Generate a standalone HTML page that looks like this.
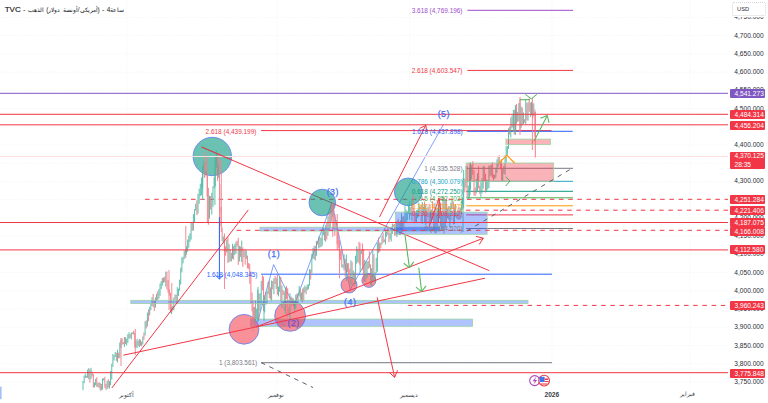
<!DOCTYPE html>
<html><head><meta charset="utf-8"><style>
html,body{margin:0;padding:0;background:#fff;width:768px;height:403px;overflow:hidden}
body{position:relative;font-family:"Liberation Sans",sans-serif}
svg text{font-family:"Liberation Sans",sans-serif}
.pl{position:absolute;left:734.3px;font-size:6.6px;line-height:9px;color:#2a2e39;white-space:nowrap}
.tag{position:absolute;left:730px;width:35px;height:9px;line-height:9px;font-size:6.6px;color:#fff;border-radius:1px;padding-left:4.5px;box-sizing:border-box;white-space:nowrap}
.usd{position:absolute;left:731.5px;top:2px;width:34px;height:14px;border:0.8px dotted #d4d6dc;border-radius:2px;box-sizing:border-box;font-size:5.7px;line-height:12.5px;color:#2a2e39;padding-left:4.6px;background:#fff}
.title{position:absolute;left:4.7px;top:5.4px;font-size:7px;color:#131722;white-space:nowrap;direction:ltr}
.title span{display:inline-block;margin-right:0.45px}
.title .ar{font-size:6.45px}
.title .tv{font-size:8px;-webkit-text-stroke:0.15px #131722}
.tl{position:absolute;top:391px;font-size:6.6px;color:#3a3e49;transform:translateX(-50%);white-space:nowrap}
</style></head><body>
<svg width="768" height="403" style="position:absolute;left:0;top:0"><line x1="0" y1="382.0" x2="728" y2="382.0" stroke="#eef0f3" stroke-width="0.7" stroke-dasharray="1 1.2"/>
<line x1="0" y1="363.7" x2="728" y2="363.7" stroke="#eef0f3" stroke-width="0.7" stroke-dasharray="1 1.2"/>
<line x1="0" y1="345.5" x2="728" y2="345.5" stroke="#eef0f3" stroke-width="0.7" stroke-dasharray="1 1.2"/>
<line x1="0" y1="327.3" x2="728" y2="327.3" stroke="#eef0f3" stroke-width="0.7" stroke-dasharray="1 1.2"/>
<line x1="0" y1="309.0" x2="728" y2="309.0" stroke="#eef0f3" stroke-width="0.7" stroke-dasharray="1 1.2"/>
<line x1="0" y1="290.8" x2="728" y2="290.8" stroke="#eef0f3" stroke-width="0.7" stroke-dasharray="1 1.2"/>
<line x1="0" y1="272.6" x2="728" y2="272.6" stroke="#eef0f3" stroke-width="0.7" stroke-dasharray="1 1.2"/>
<line x1="0" y1="254.4" x2="728" y2="254.4" stroke="#eef0f3" stroke-width="0.7" stroke-dasharray="1 1.2"/>
<line x1="0" y1="236.1" x2="728" y2="236.1" stroke="#eef0f3" stroke-width="0.7" stroke-dasharray="1 1.2"/>
<line x1="0" y1="217.9" x2="728" y2="217.9" stroke="#eef0f3" stroke-width="0.7" stroke-dasharray="1 1.2"/>
<line x1="0" y1="199.7" x2="728" y2="199.7" stroke="#eef0f3" stroke-width="0.7" stroke-dasharray="1 1.2"/>
<line x1="0" y1="181.5" x2="728" y2="181.5" stroke="#eef0f3" stroke-width="0.7" stroke-dasharray="1 1.2"/>
<line x1="0" y1="163.2" x2="728" y2="163.2" stroke="#eef0f3" stroke-width="0.7" stroke-dasharray="1 1.2"/>
<line x1="0" y1="145.0" x2="728" y2="145.0" stroke="#eef0f3" stroke-width="0.7" stroke-dasharray="1 1.2"/>
<line x1="0" y1="126.8" x2="728" y2="126.8" stroke="#eef0f3" stroke-width="0.7" stroke-dasharray="1 1.2"/>
<line x1="0" y1="108.5" x2="728" y2="108.5" stroke="#eef0f3" stroke-width="0.7" stroke-dasharray="1 1.2"/>
<line x1="0" y1="90.3" x2="728" y2="90.3" stroke="#eef0f3" stroke-width="0.7" stroke-dasharray="1 1.2"/>
<line x1="0" y1="72.1" x2="728" y2="72.1" stroke="#eef0f3" stroke-width="0.7" stroke-dasharray="1 1.2"/>
<line x1="0" y1="53.9" x2="728" y2="53.9" stroke="#eef0f3" stroke-width="0.7" stroke-dasharray="1 1.2"/>
<line x1="0" y1="35.6" x2="728" y2="35.6" stroke="#eef0f3" stroke-width="0.7" stroke-dasharray="1 1.2"/>
<line x1="0" y1="17.4" x2="728" y2="17.4" stroke="#eef0f3" stroke-width="0.7" stroke-dasharray="1 1.2"/>
<line x1="126.7" y1="0" x2="126.7" y2="388" stroke="#eef0f3" stroke-width="0.7" stroke-dasharray="1 1.2"/>
<line x1="276.8" y1="0" x2="276.8" y2="388" stroke="#eef0f3" stroke-width="0.7" stroke-dasharray="1 1.2"/>
<line x1="409.5" y1="0" x2="409.5" y2="388" stroke="#eef0f3" stroke-width="0.7" stroke-dasharray="1 1.2"/>
<line x1="551.9" y1="0" x2="551.9" y2="388" stroke="#eef0f3" stroke-width="0.7" stroke-dasharray="1 1.2"/>
<line x1="689.8" y1="0" x2="689.8" y2="388" stroke="#eef0f3" stroke-width="0.7" stroke-dasharray="1 1.2"/>
<line x1="467.3" y1="10.3" x2="573" y2="10.3" stroke="#9c4dcc" stroke-width="1"/>
<line x1="467.3" y1="70.4" x2="573" y2="70.4" stroke="#f23645" stroke-width="1"/>
<line x1="261" y1="130.6" x2="551.5" y2="130.6" stroke="#f23645" stroke-width="1"/>
<line x1="467.2" y1="131.3" x2="572.7" y2="131.3" stroke="#2962ff" stroke-width="1"/>
<line x1="261" y1="274.2" x2="552" y2="274.2" stroke="#2962ff" stroke-width="1"/>
<line x1="261.2" y1="362.7" x2="552" y2="362.7" stroke="#787b86" stroke-width="1"/>
<line x1="466.2" y1="168.3" x2="573" y2="168.3" stroke="#787b86" stroke-width="1"/>
<line x1="466.2" y1="181.3" x2="573" y2="181.3" stroke="#22a5c8" stroke-width="1"/>
<line x1="466.2" y1="191.3" x2="573" y2="191.3" stroke="#089981" stroke-width="1"/>
<line x1="466.2" y1="197.8" x2="573" y2="197.8" stroke="#4caf50" stroke-width="1"/>
<line x1="466.2" y1="205.8" x2="573" y2="205.8" stroke="#ff9800" stroke-width="1"/>
<line x1="466.2" y1="214.9" x2="573" y2="214.9" stroke="#f23645" stroke-width="1"/>
<line x1="466.2" y1="228.5" x2="573" y2="228.5" stroke="#787b86" stroke-width="1"/>
<line x1="145" y1="199.3" x2="728" y2="199.3" stroke="#f23645" stroke-width="1" stroke-dasharray="4.5 4.7"/>
<rect x="250.7" y="319.1" width="221.9" height="7.2" fill="rgba(41,98,255,0.38)" stroke="#9ad3a0" stroke-width="0.8"/>
<line x1="201.6" y1="147" x2="489.3" y2="270.7" stroke="#f23645" stroke-width="1"/>
<polyline points="257.8,321 273.6,264.6 294,306 332,202.5 350.3,289.5 443.3,124.8" fill="none" stroke="#4a78f5" stroke-width="0.7"/>
<circle cx="212.3" cy="156.5" r="19.2" fill="rgba(8,153,129,0.6)" stroke="#5b7ef0" stroke-width="0.8"/>
<circle cx="322.3" cy="202.5" r="13.3" fill="rgba(8,153,129,0.6)" stroke="#5b7ef0" stroke-width="0.8"/>
<circle cx="408.3" cy="191.9" r="13.9" fill="rgba(8,153,129,0.6)" stroke="#5b7ef0" stroke-width="0.8"/>
<circle cx="244" cy="329.3" r="14.9" fill="rgba(242,54,69,0.55)" stroke="#5b7ef0" stroke-width="0.8"/>
<circle cx="290.1" cy="315.9" r="15.4" fill="rgba(242,54,69,0.55)" stroke="#5b7ef0" stroke-width="0.8"/>
<circle cx="349" cy="285" r="8" fill="rgba(242,54,69,0.55)" stroke="#5b7ef0" stroke-width="0.8"/>
<circle cx="368.9" cy="280.4" r="7" fill="rgba(242,54,69,0.55)" stroke="#5b7ef0" stroke-width="0.8"/>
<g><line x1="83.00" y1="381.0" x2="83.00" y2="390.2" stroke="#40b29d" stroke-width="0.85"/><line x1="84.15" y1="375.7" x2="84.15" y2="383.1" stroke="#40b29d" stroke-width="0.85"/><line x1="85.30" y1="373.7" x2="85.30" y2="378.1" stroke="#40b29d" stroke-width="0.85"/><line x1="86.45" y1="375.7" x2="86.45" y2="377.6" stroke="#f16b78" stroke-width="0.85"/><line x1="87.60" y1="369.7" x2="87.60" y2="377.8" stroke="#40b29d" stroke-width="0.85"/><line x1="88.75" y1="368.1" x2="88.75" y2="379.2" stroke="#40b29d" stroke-width="0.85"/><line x1="89.90" y1="369.3" x2="89.90" y2="382.6" stroke="#f16b78" stroke-width="0.85"/><line x1="91.05" y1="367.8" x2="91.05" y2="378.9" stroke="#40b29d" stroke-width="0.85"/><line x1="92.20" y1="371.5" x2="92.20" y2="376.5" stroke="#f16b78" stroke-width="0.85"/><line x1="93.35" y1="374.0" x2="93.35" y2="387.6" stroke="#f16b78" stroke-width="0.85"/><line x1="94.50" y1="382.5" x2="94.50" y2="387.3" stroke="#40b29d" stroke-width="0.85"/><line x1="95.65" y1="378.9" x2="95.65" y2="385.2" stroke="#40b29d" stroke-width="0.85"/><line x1="96.80" y1="377.3" x2="96.80" y2="387.0" stroke="#f16b78" stroke-width="0.85"/><line x1="97.95" y1="383.0" x2="97.95" y2="386.9" stroke="#40b29d" stroke-width="0.85"/><line x1="99.10" y1="382.1" x2="99.10" y2="388.1" stroke="#f16b78" stroke-width="0.85"/><line x1="100.25" y1="383.1" x2="100.25" y2="390.5" stroke="#40b29d" stroke-width="0.85"/><line x1="101.40" y1="384.0" x2="101.40" y2="390.4" stroke="#f16b78" stroke-width="0.85"/><line x1="102.55" y1="378.5" x2="102.55" y2="389.6" stroke="#40b29d" stroke-width="0.85"/><line x1="103.70" y1="378.1" x2="103.70" y2="380.4" stroke="#40b29d" stroke-width="0.85"/><line x1="104.85" y1="376.8" x2="104.85" y2="387.9" stroke="#f16b78" stroke-width="0.85"/><line x1="106.00" y1="383.9" x2="106.00" y2="390.1" stroke="#f16b78" stroke-width="0.85"/><line x1="107.15" y1="380.8" x2="107.15" y2="389.0" stroke="#40b29d" stroke-width="0.85"/><line x1="108.30" y1="379.2" x2="108.30" y2="387.6" stroke="#f16b78" stroke-width="0.85"/><line x1="109.45" y1="381.1" x2="109.45" y2="388.6" stroke="#40b29d" stroke-width="0.85"/><line x1="110.60" y1="371.0" x2="110.60" y2="385.2" stroke="#40b29d" stroke-width="0.85"/><line x1="111.75" y1="363.7" x2="111.75" y2="379.5" stroke="#40b29d" stroke-width="0.85"/><line x1="112.90" y1="354.0" x2="112.90" y2="366.9" stroke="#40b29d" stroke-width="0.85"/><line x1="114.05" y1="354.9" x2="114.05" y2="360.4" stroke="#40b29d" stroke-width="0.85"/><line x1="115.20" y1="352.0" x2="115.20" y2="357.0" stroke="#40b29d" stroke-width="0.85"/><line x1="116.35" y1="352.8" x2="116.35" y2="361.0" stroke="#f16b78" stroke-width="0.85"/><line x1="117.50" y1="349.8" x2="117.50" y2="362.5" stroke="#40b29d" stroke-width="0.85"/><line x1="118.65" y1="352.7" x2="118.65" y2="358.3" stroke="#f16b78" stroke-width="0.85"/><line x1="119.80" y1="342.5" x2="119.80" y2="358.2" stroke="#40b29d" stroke-width="0.85"/><line x1="120.95" y1="339.6" x2="120.95" y2="348.2" stroke="#40b29d" stroke-width="0.85"/><line x1="122.10" y1="338.2" x2="122.10" y2="344.9" stroke="#f16b78" stroke-width="0.85"/><line x1="123.25" y1="342.1" x2="123.25" y2="344.1" stroke="#f16b78" stroke-width="0.85"/><line x1="124.40" y1="337.0" x2="124.40" y2="346.9" stroke="#40b29d" stroke-width="0.85"/><line x1="125.55" y1="337.2" x2="125.55" y2="344.0" stroke="#f16b78" stroke-width="0.85"/><line x1="126.70" y1="338.7" x2="126.70" y2="345.4" stroke="#40b29d" stroke-width="0.85"/><line x1="127.85" y1="334.2" x2="127.85" y2="342.8" stroke="#40b29d" stroke-width="0.85"/><line x1="129.00" y1="332.3" x2="129.00" y2="338.9" stroke="#40b29d" stroke-width="0.85"/><line x1="130.15" y1="334.0" x2="130.15" y2="338.0" stroke="#f16b78" stroke-width="0.85"/><line x1="131.30" y1="332.5" x2="131.30" y2="339.4" stroke="#40b29d" stroke-width="0.85"/><line x1="132.45" y1="332.6" x2="132.45" y2="334.1" stroke="#40b29d" stroke-width="0.85"/><line x1="133.60" y1="330.8" x2="133.60" y2="334.5" stroke="#f16b78" stroke-width="0.85"/><line x1="134.75" y1="332.6" x2="134.75" y2="347.3" stroke="#f16b78" stroke-width="0.85"/><line x1="135.90" y1="341.4" x2="135.90" y2="348.4" stroke="#40b29d" stroke-width="0.85"/><line x1="137.05" y1="338.8" x2="137.05" y2="347.6" stroke="#40b29d" stroke-width="0.85"/><line x1="138.20" y1="340.7" x2="138.20" y2="346.2" stroke="#f16b78" stroke-width="0.85"/><line x1="139.35" y1="339.0" x2="139.35" y2="347.0" stroke="#40b29d" stroke-width="0.85"/><line x1="140.50" y1="339.8" x2="140.50" y2="345.7" stroke="#f16b78" stroke-width="0.85"/><line x1="141.65" y1="341.5" x2="141.65" y2="346.3" stroke="#40b29d" stroke-width="0.85"/><line x1="142.80" y1="336.4" x2="142.80" y2="344.5" stroke="#40b29d" stroke-width="0.85"/><line x1="143.95" y1="332.4" x2="143.95" y2="339.9" stroke="#f16b78" stroke-width="0.85"/><line x1="145.10" y1="321.3" x2="145.10" y2="335.5" stroke="#40b29d" stroke-width="0.85"/><line x1="146.25" y1="320.4" x2="146.25" y2="328.6" stroke="#f16b78" stroke-width="0.85"/><line x1="147.40" y1="312.6" x2="147.40" y2="326.4" stroke="#40b29d" stroke-width="0.85"/><line x1="148.55" y1="309.3" x2="148.55" y2="321.2" stroke="#f16b78" stroke-width="0.85"/><line x1="149.70" y1="306.7" x2="149.70" y2="315.5" stroke="#40b29d" stroke-width="0.85"/><line x1="150.85" y1="303.2" x2="150.85" y2="310.3" stroke="#40b29d" stroke-width="0.85"/><line x1="152.00" y1="297.3" x2="152.00" y2="306.0" stroke="#40b29d" stroke-width="0.85"/><line x1="153.15" y1="293.9" x2="153.15" y2="307.3" stroke="#f16b78" stroke-width="0.85"/><line x1="154.30" y1="300.2" x2="154.30" y2="311.1" stroke="#f16b78" stroke-width="0.85"/><line x1="155.45" y1="297.3" x2="155.45" y2="307.6" stroke="#40b29d" stroke-width="0.85"/><line x1="156.60" y1="293.7" x2="156.60" y2="300.7" stroke="#40b29d" stroke-width="0.85"/><line x1="157.75" y1="291.3" x2="157.75" y2="300.5" stroke="#f16b78" stroke-width="0.85"/><line x1="158.90" y1="288.9" x2="158.90" y2="298.7" stroke="#40b29d" stroke-width="0.85"/><line x1="160.05" y1="283.5" x2="160.05" y2="295.7" stroke="#40b29d" stroke-width="0.85"/><line x1="161.20" y1="281.0" x2="161.20" y2="289.1" stroke="#40b29d" stroke-width="0.85"/><line x1="162.35" y1="277.9" x2="162.35" y2="285.6" stroke="#40b29d" stroke-width="0.85"/><line x1="163.50" y1="277.6" x2="163.50" y2="282.7" stroke="#f16b78" stroke-width="0.85"/><line x1="164.65" y1="276.7" x2="164.65" y2="282.2" stroke="#f16b78" stroke-width="0.85"/><line x1="165.80" y1="271.6" x2="165.80" y2="286.6" stroke="#40b29d" stroke-width="0.85"/><line x1="166.95" y1="271.6" x2="166.95" y2="289.6" stroke="#f16b78" stroke-width="0.85"/><line x1="168.10" y1="279.8" x2="168.10" y2="292.7" stroke="#f16b78" stroke-width="0.85"/><line x1="169.25" y1="289.4" x2="169.25" y2="295.7" stroke="#f16b78" stroke-width="0.85"/><line x1="170.40" y1="292.6" x2="170.40" y2="312.8" stroke="#f16b78" stroke-width="0.85"/><line x1="171.55" y1="307.2" x2="171.55" y2="314.0" stroke="#40b29d" stroke-width="0.85"/><line x1="172.70" y1="306.1" x2="172.70" y2="310.8" stroke="#40b29d" stroke-width="0.85"/><line x1="173.85" y1="297.7" x2="173.85" y2="310.2" stroke="#40b29d" stroke-width="0.85"/><line x1="175.00" y1="294.5" x2="175.00" y2="299.6" stroke="#40b29d" stroke-width="0.85"/><line x1="176.15" y1="294.6" x2="176.15" y2="303.7" stroke="#f16b78" stroke-width="0.85"/><line x1="177.30" y1="287.2" x2="177.30" y2="302.5" stroke="#40b29d" stroke-width="0.85"/><line x1="178.45" y1="288.6" x2="178.45" y2="295.9" stroke="#40b29d" stroke-width="0.85"/><line x1="179.60" y1="279.6" x2="179.60" y2="290.7" stroke="#40b29d" stroke-width="0.85"/><line x1="180.75" y1="267.6" x2="180.75" y2="284.4" stroke="#40b29d" stroke-width="0.85"/><line x1="181.90" y1="257.3" x2="181.90" y2="272.3" stroke="#40b29d" stroke-width="0.85"/><line x1="183.05" y1="256.7" x2="183.05" y2="263.4" stroke="#40b29d" stroke-width="0.85"/><line x1="184.20" y1="250.7" x2="184.20" y2="259.2" stroke="#40b29d" stroke-width="0.85"/><line x1="185.35" y1="249.9" x2="185.35" y2="256.6" stroke="#40b29d" stroke-width="0.85"/><line x1="186.50" y1="246.3" x2="186.50" y2="254.4" stroke="#40b29d" stroke-width="0.85"/><line x1="187.65" y1="239.5" x2="187.65" y2="251.8" stroke="#40b29d" stroke-width="0.85"/><line x1="188.80" y1="235.8" x2="188.80" y2="247.7" stroke="#40b29d" stroke-width="0.85"/><line x1="189.95" y1="233.2" x2="189.95" y2="241.9" stroke="#40b29d" stroke-width="0.85"/><line x1="191.10" y1="222.4" x2="191.10" y2="239.6" stroke="#40b29d" stroke-width="0.85"/><line x1="192.25" y1="222.2" x2="192.25" y2="230.7" stroke="#f16b78" stroke-width="0.85"/><line x1="193.40" y1="214.1" x2="193.40" y2="230.7" stroke="#40b29d" stroke-width="0.85"/><line x1="194.55" y1="209.2" x2="194.55" y2="222.8" stroke="#40b29d" stroke-width="0.85"/><line x1="195.70" y1="203.7" x2="195.70" y2="210.5" stroke="#40b29d" stroke-width="0.85"/><line x1="196.85" y1="200.4" x2="196.85" y2="215.3" stroke="#f16b78" stroke-width="0.85"/><line x1="198.00" y1="193.9" x2="198.00" y2="213.7" stroke="#40b29d" stroke-width="0.85"/><line x1="199.15" y1="188.7" x2="199.15" y2="203.8" stroke="#40b29d" stroke-width="0.85"/><line x1="200.30" y1="183.7" x2="200.30" y2="196.2" stroke="#40b29d" stroke-width="0.85"/><line x1="201.45" y1="177.5" x2="201.45" y2="195.2" stroke="#40b29d" stroke-width="0.85"/><line x1="202.60" y1="166.1" x2="202.60" y2="188.4" stroke="#40b29d" stroke-width="0.85"/><line x1="203.75" y1="161.3" x2="203.75" y2="172.1" stroke="#40b29d" stroke-width="0.85"/><line x1="204.90" y1="162.8" x2="204.90" y2="177.2" stroke="#f16b78" stroke-width="0.85"/><line x1="206.05" y1="171.3" x2="206.05" y2="175.4" stroke="#40b29d" stroke-width="0.85"/><line x1="207.20" y1="174.2" x2="207.20" y2="196.4" stroke="#f16b78" stroke-width="0.85"/><line x1="208.35" y1="187.9" x2="208.35" y2="224.8" stroke="#f16b78" stroke-width="0.85"/><line x1="209.50" y1="195.8" x2="209.50" y2="218.5" stroke="#40b29d" stroke-width="0.85"/><line x1="210.65" y1="196.0" x2="210.65" y2="209.7" stroke="#f16b78" stroke-width="0.85"/><line x1="211.80" y1="192.8" x2="211.80" y2="214.5" stroke="#40b29d" stroke-width="0.85"/><line x1="212.95" y1="186.3" x2="212.95" y2="206.9" stroke="#40b29d" stroke-width="0.85"/><line x1="214.10" y1="177.3" x2="214.10" y2="188.4" stroke="#40b29d" stroke-width="0.85"/><line x1="215.25" y1="156.9" x2="215.25" y2="186.5" stroke="#40b29d" stroke-width="0.85"/><line x1="216.40" y1="150.4" x2="216.40" y2="168.0" stroke="#40b29d" stroke-width="0.85"/><line x1="217.55" y1="156.2" x2="217.55" y2="180.9" stroke="#f16b78" stroke-width="0.85"/><line x1="218.70" y1="164.3" x2="218.70" y2="178.0" stroke="#40b29d" stroke-width="0.85"/><line x1="219.85" y1="184.4" x2="219.85" y2="211.5" stroke="#f16b78" stroke-width="0.85"/><line x1="221.00" y1="207.0" x2="221.00" y2="226.6" stroke="#f16b78" stroke-width="0.85"/><line x1="222.15" y1="227.5" x2="222.15" y2="241.3" stroke="#f16b78" stroke-width="0.85"/><line x1="223.30" y1="236.6" x2="223.30" y2="243.2" stroke="#40b29d" stroke-width="0.85"/><line x1="224.45" y1="233.5" x2="224.45" y2="251.3" stroke="#f16b78" stroke-width="0.85"/><line x1="225.60" y1="246.3" x2="225.60" y2="255.8" stroke="#f16b78" stroke-width="0.85"/><line x1="226.75" y1="239.7" x2="226.75" y2="252.5" stroke="#40b29d" stroke-width="0.85"/><line x1="227.90" y1="236.9" x2="227.90" y2="263.0" stroke="#f16b78" stroke-width="0.85"/><line x1="229.05" y1="244.2" x2="229.05" y2="262.0" stroke="#40b29d" stroke-width="0.85"/><line x1="230.20" y1="249.4" x2="230.20" y2="261.3" stroke="#f16b78" stroke-width="0.85"/><line x1="231.35" y1="252.8" x2="231.35" y2="261.4" stroke="#40b29d" stroke-width="0.85"/><line x1="232.50" y1="243.8" x2="232.50" y2="258.8" stroke="#40b29d" stroke-width="0.85"/><line x1="233.65" y1="245.9" x2="233.65" y2="259.7" stroke="#f16b78" stroke-width="0.85"/><line x1="234.80" y1="244.1" x2="234.80" y2="254.9" stroke="#40b29d" stroke-width="0.85"/><line x1="235.95" y1="241.6" x2="235.95" y2="253.7" stroke="#40b29d" stroke-width="0.85"/><line x1="237.10" y1="240.7" x2="237.10" y2="246.5" stroke="#f16b78" stroke-width="0.85"/><line x1="238.25" y1="237.9" x2="238.25" y2="264.9" stroke="#f16b78" stroke-width="0.85"/><line x1="239.40" y1="245.8" x2="239.40" y2="261.5" stroke="#40b29d" stroke-width="0.85"/><line x1="240.55" y1="246.5" x2="240.55" y2="256.9" stroke="#f16b78" stroke-width="0.85"/><line x1="241.70" y1="240.6" x2="241.70" y2="262.0" stroke="#40b29d" stroke-width="0.85"/><line x1="242.85" y1="247.3" x2="242.85" y2="266.9" stroke="#f16b78" stroke-width="0.85"/><line x1="244.00" y1="250.7" x2="244.00" y2="257.4" stroke="#40b29d" stroke-width="0.85"/><line x1="245.15" y1="249.0" x2="245.15" y2="264.7" stroke="#f16b78" stroke-width="0.85"/><line x1="246.30" y1="250.6" x2="246.30" y2="259.1" stroke="#40b29d" stroke-width="0.85"/><line x1="247.45" y1="255.6" x2="247.45" y2="268.4" stroke="#f16b78" stroke-width="0.85"/><line x1="248.60" y1="263.0" x2="248.60" y2="268.8" stroke="#f16b78" stroke-width="0.85"/><line x1="249.75" y1="263.9" x2="249.75" y2="283.7" stroke="#f16b78" stroke-width="0.85"/><line x1="250.90" y1="271.4" x2="250.90" y2="303.9" stroke="#f16b78" stroke-width="0.85"/><line x1="252.05" y1="292.5" x2="252.05" y2="311.4" stroke="#f16b78" stroke-width="0.85"/><line x1="253.20" y1="306.9" x2="253.20" y2="323.8" stroke="#f16b78" stroke-width="0.85"/><line x1="254.35" y1="307.0" x2="254.35" y2="322.6" stroke="#40b29d" stroke-width="0.85"/><line x1="255.50" y1="300.1" x2="255.50" y2="321.1" stroke="#f16b78" stroke-width="0.85"/><line x1="256.65" y1="308.6" x2="256.65" y2="319.1" stroke="#40b29d" stroke-width="0.85"/><line x1="257.80" y1="289.6" x2="257.80" y2="321.1" stroke="#40b29d" stroke-width="0.85"/><line x1="258.95" y1="293.4" x2="258.95" y2="319.5" stroke="#f16b78" stroke-width="0.85"/><line x1="260.10" y1="293.2" x2="260.10" y2="310.9" stroke="#40b29d" stroke-width="0.85"/><line x1="261.25" y1="281.0" x2="261.25" y2="305.1" stroke="#40b29d" stroke-width="0.85"/><line x1="262.40" y1="275.4" x2="262.40" y2="290.2" stroke="#f16b78" stroke-width="0.85"/><line x1="263.55" y1="276.6" x2="263.55" y2="311.1" stroke="#f16b78" stroke-width="0.85"/><line x1="264.70" y1="297.3" x2="264.70" y2="312.4" stroke="#40b29d" stroke-width="0.85"/><line x1="265.85" y1="292.1" x2="265.85" y2="304.8" stroke="#f16b78" stroke-width="0.85"/><line x1="267.00" y1="291.2" x2="267.00" y2="304.0" stroke="#40b29d" stroke-width="0.85"/><line x1="268.15" y1="282.1" x2="268.15" y2="294.0" stroke="#40b29d" stroke-width="0.85"/><line x1="269.30" y1="280.9" x2="269.30" y2="298.1" stroke="#f16b78" stroke-width="0.85"/><line x1="270.45" y1="287.4" x2="270.45" y2="299.3" stroke="#f16b78" stroke-width="0.85"/><line x1="271.60" y1="280.5" x2="271.60" y2="301.2" stroke="#40b29d" stroke-width="0.85"/><line x1="272.75" y1="281.0" x2="272.75" y2="289.3" stroke="#f16b78" stroke-width="0.85"/><line x1="273.90" y1="278.4" x2="273.90" y2="294.2" stroke="#40b29d" stroke-width="0.85"/><line x1="275.05" y1="276.0" x2="275.05" y2="283.9" stroke="#f16b78" stroke-width="0.85"/><line x1="276.20" y1="278.0" x2="276.20" y2="289.1" stroke="#40b29d" stroke-width="0.85"/><line x1="277.35" y1="274.7" x2="277.35" y2="294.9" stroke="#f16b78" stroke-width="0.85"/><line x1="278.50" y1="286.5" x2="278.50" y2="296.4" stroke="#40b29d" stroke-width="0.85"/><line x1="279.65" y1="276.4" x2="279.65" y2="291.9" stroke="#40b29d" stroke-width="0.85"/><line x1="280.80" y1="277.2" x2="280.80" y2="301.4" stroke="#f16b78" stroke-width="0.85"/><line x1="281.95" y1="285.4" x2="281.95" y2="308.0" stroke="#40b29d" stroke-width="0.85"/><line x1="283.10" y1="290.0" x2="283.10" y2="295.0" stroke="#f16b78" stroke-width="0.85"/><line x1="284.25" y1="291.4" x2="284.25" y2="310.7" stroke="#f16b78" stroke-width="0.85"/><line x1="285.40" y1="287.5" x2="285.40" y2="314.1" stroke="#40b29d" stroke-width="0.85"/><line x1="286.55" y1="286.1" x2="286.55" y2="298.9" stroke="#f16b78" stroke-width="0.85"/><line x1="287.70" y1="288.2" x2="287.70" y2="314.4" stroke="#f16b78" stroke-width="0.85"/><line x1="288.85" y1="307.9" x2="288.85" y2="314.7" stroke="#f16b78" stroke-width="0.85"/><line x1="290.00" y1="293.2" x2="290.00" y2="318.5" stroke="#40b29d" stroke-width="0.85"/><line x1="291.15" y1="296.5" x2="291.15" y2="305.8" stroke="#f16b78" stroke-width="0.85"/><line x1="292.30" y1="297.7" x2="292.30" y2="303.2" stroke="#40b29d" stroke-width="0.85"/><line x1="293.45" y1="298.5" x2="293.45" y2="307.2" stroke="#f16b78" stroke-width="0.85"/><line x1="294.60" y1="302.7" x2="294.60" y2="310.8" stroke="#40b29d" stroke-width="0.85"/><line x1="295.75" y1="294.6" x2="295.75" y2="308.4" stroke="#40b29d" stroke-width="0.85"/><line x1="296.90" y1="293.5" x2="296.90" y2="304.5" stroke="#f16b78" stroke-width="0.85"/><line x1="298.05" y1="293.5" x2="298.05" y2="302.9" stroke="#40b29d" stroke-width="0.85"/><line x1="299.20" y1="286.0" x2="299.20" y2="296.4" stroke="#40b29d" stroke-width="0.85"/><line x1="300.35" y1="289.0" x2="300.35" y2="300.8" stroke="#f16b78" stroke-width="0.85"/><line x1="301.50" y1="292.4" x2="301.50" y2="301.4" stroke="#40b29d" stroke-width="0.85"/><line x1="302.65" y1="288.6" x2="302.65" y2="302.2" stroke="#f16b78" stroke-width="0.85"/><line x1="303.80" y1="287.4" x2="303.80" y2="300.8" stroke="#40b29d" stroke-width="0.85"/><line x1="304.95" y1="285.5" x2="304.95" y2="292.6" stroke="#40b29d" stroke-width="0.85"/><line x1="306.10" y1="286.9" x2="306.10" y2="294.3" stroke="#f16b78" stroke-width="0.85"/><line x1="307.25" y1="284.6" x2="307.25" y2="290.3" stroke="#40b29d" stroke-width="0.85"/><line x1="308.40" y1="284.4" x2="308.40" y2="289.2" stroke="#40b29d" stroke-width="0.85"/><line x1="309.55" y1="269.1" x2="309.55" y2="285.8" stroke="#40b29d" stroke-width="0.85"/><line x1="310.70" y1="269.4" x2="310.70" y2="279.5" stroke="#f16b78" stroke-width="0.85"/><line x1="311.85" y1="253.8" x2="311.85" y2="272.9" stroke="#40b29d" stroke-width="0.85"/><line x1="313.00" y1="247.8" x2="313.00" y2="259.0" stroke="#40b29d" stroke-width="0.85"/><line x1="314.15" y1="245.7" x2="314.15" y2="259.1" stroke="#f16b78" stroke-width="0.85"/><line x1="315.30" y1="249.1" x2="315.30" y2="260.5" stroke="#40b29d" stroke-width="0.85"/><line x1="316.45" y1="241.0" x2="316.45" y2="255.8" stroke="#40b29d" stroke-width="0.85"/><line x1="317.60" y1="241.7" x2="317.60" y2="244.6" stroke="#f16b78" stroke-width="0.85"/><line x1="318.75" y1="236.6" x2="318.75" y2="248.4" stroke="#40b29d" stroke-width="0.85"/><line x1="319.90" y1="237.6" x2="319.90" y2="247.5" stroke="#f16b78" stroke-width="0.85"/><line x1="321.05" y1="237.7" x2="321.05" y2="247.0" stroke="#40b29d" stroke-width="0.85"/><line x1="322.20" y1="229.9" x2="322.20" y2="245.7" stroke="#40b29d" stroke-width="0.85"/><line x1="323.35" y1="227.5" x2="323.35" y2="235.3" stroke="#40b29d" stroke-width="0.85"/><line x1="324.50" y1="229.2" x2="324.50" y2="240.5" stroke="#f16b78" stroke-width="0.85"/><line x1="325.65" y1="224.9" x2="325.65" y2="241.7" stroke="#40b29d" stroke-width="0.85"/><line x1="326.80" y1="221.9" x2="326.80" y2="239.5" stroke="#f16b78" stroke-width="0.85"/><line x1="327.95" y1="216.3" x2="327.95" y2="235.8" stroke="#40b29d" stroke-width="0.85"/><line x1="329.10" y1="213.3" x2="329.10" y2="230.0" stroke="#f16b78" stroke-width="0.85"/><line x1="330.25" y1="206.0" x2="330.25" y2="227.8" stroke="#40b29d" stroke-width="0.85"/><line x1="331.40" y1="203.6" x2="331.40" y2="221.4" stroke="#f16b78" stroke-width="0.85"/><line x1="332.55" y1="208.0" x2="332.55" y2="216.8" stroke="#40b29d" stroke-width="0.85"/><line x1="333.70" y1="204.1" x2="333.70" y2="229.0" stroke="#f16b78" stroke-width="0.85"/><line x1="334.85" y1="214.4" x2="334.85" y2="235.8" stroke="#f16b78" stroke-width="0.85"/><line x1="336.00" y1="220.0" x2="336.00" y2="228.9" stroke="#40b29d" stroke-width="0.85"/><line x1="337.15" y1="223.0" x2="337.15" y2="244.2" stroke="#f16b78" stroke-width="0.85"/><line x1="338.30" y1="232.8" x2="338.30" y2="248.4" stroke="#f16b78" stroke-width="0.85"/><line x1="339.45" y1="240.4" x2="339.45" y2="259.1" stroke="#f16b78" stroke-width="0.85"/><line x1="340.60" y1="250.8" x2="340.60" y2="259.9" stroke="#f16b78" stroke-width="0.85"/><line x1="341.75" y1="250.3" x2="341.75" y2="267.3" stroke="#f16b78" stroke-width="0.85"/><line x1="342.90" y1="264.3" x2="342.90" y2="267.9" stroke="#40b29d" stroke-width="0.85"/><line x1="344.05" y1="254.2" x2="344.05" y2="270.4" stroke="#40b29d" stroke-width="0.85"/><line x1="345.20" y1="258.9" x2="345.20" y2="276.8" stroke="#f16b78" stroke-width="0.85"/><line x1="346.35" y1="254.7" x2="346.35" y2="281.0" stroke="#40b29d" stroke-width="0.85"/><line x1="347.50" y1="263.2" x2="347.50" y2="272.0" stroke="#f16b78" stroke-width="0.85"/><line x1="348.65" y1="263.1" x2="348.65" y2="280.9" stroke="#f16b78" stroke-width="0.85"/><line x1="349.80" y1="268.7" x2="349.80" y2="283.5" stroke="#f16b78" stroke-width="0.85"/><line x1="350.95" y1="260.3" x2="350.95" y2="285.5" stroke="#40b29d" stroke-width="0.85"/><line x1="352.10" y1="261.8" x2="352.10" y2="285.4" stroke="#f16b78" stroke-width="0.85"/><line x1="353.25" y1="270.5" x2="353.25" y2="279.2" stroke="#40b29d" stroke-width="0.85"/><line x1="354.40" y1="272.5" x2="354.40" y2="286.6" stroke="#f16b78" stroke-width="0.85"/><line x1="355.55" y1="255.7" x2="355.55" y2="284.5" stroke="#40b29d" stroke-width="0.85"/><line x1="356.70" y1="246.4" x2="356.70" y2="263.7" stroke="#40b29d" stroke-width="0.85"/><line x1="357.85" y1="249.5" x2="357.85" y2="261.9" stroke="#40b29d" stroke-width="0.85"/><line x1="359.00" y1="241.8" x2="359.00" y2="263.4" stroke="#f16b78" stroke-width="0.85"/><line x1="360.15" y1="251.1" x2="360.15" y2="272.1" stroke="#40b29d" stroke-width="0.85"/><line x1="361.30" y1="249.9" x2="361.30" y2="254.0" stroke="#40b29d" stroke-width="0.85"/><line x1="362.45" y1="243.5" x2="362.45" y2="269.8" stroke="#f16b78" stroke-width="0.85"/><line x1="363.60" y1="249.0" x2="363.60" y2="281.6" stroke="#f16b78" stroke-width="0.85"/><line x1="364.75" y1="259.9" x2="364.75" y2="281.7" stroke="#40b29d" stroke-width="0.85"/><line x1="365.90" y1="261.6" x2="365.90" y2="281.8" stroke="#f16b78" stroke-width="0.85"/><line x1="367.05" y1="261.5" x2="367.05" y2="278.0" stroke="#40b29d" stroke-width="0.85"/><line x1="368.20" y1="261.0" x2="368.20" y2="268.9" stroke="#40b29d" stroke-width="0.85"/><line x1="369.35" y1="251.3" x2="369.35" y2="267.8" stroke="#f16b78" stroke-width="0.85"/><line x1="370.50" y1="264.3" x2="370.50" y2="285.2" stroke="#f16b78" stroke-width="0.85"/><line x1="371.65" y1="268.1" x2="371.65" y2="286.1" stroke="#40b29d" stroke-width="0.85"/><line x1="372.80" y1="251.0" x2="372.80" y2="281.0" stroke="#40b29d" stroke-width="0.85"/><line x1="373.95" y1="254.1" x2="373.95" y2="281.4" stroke="#f16b78" stroke-width="0.85"/><line x1="375.10" y1="272.2" x2="375.10" y2="281.6" stroke="#40b29d" stroke-width="0.85"/><line x1="376.25" y1="257.8" x2="376.25" y2="273.0" stroke="#40b29d" stroke-width="0.85"/><line x1="377.40" y1="242.8" x2="377.40" y2="271.6" stroke="#40b29d" stroke-width="0.85"/><line x1="378.55" y1="237.5" x2="378.55" y2="253.0" stroke="#f16b78" stroke-width="0.85"/><line x1="379.70" y1="242.5" x2="379.70" y2="251.7" stroke="#40b29d" stroke-width="0.85"/><line x1="380.85" y1="242.7" x2="380.85" y2="248.4" stroke="#f16b78" stroke-width="0.85"/><line x1="382.00" y1="235.8" x2="382.00" y2="244.5" stroke="#40b29d" stroke-width="0.85"/><line x1="383.15" y1="232.6" x2="383.15" y2="242.7" stroke="#f16b78" stroke-width="0.85"/><line x1="384.30" y1="239.3" x2="384.30" y2="242.1" stroke="#f16b78" stroke-width="0.85"/><line x1="385.45" y1="229.7" x2="385.45" y2="244.4" stroke="#40b29d" stroke-width="0.85"/><line x1="386.60" y1="231.6" x2="386.60" y2="236.8" stroke="#40b29d" stroke-width="0.85"/><line x1="387.75" y1="227.8" x2="387.75" y2="234.8" stroke="#f16b78" stroke-width="0.85"/><line x1="388.90" y1="229.5" x2="388.90" y2="242.2" stroke="#f16b78" stroke-width="0.85"/><line x1="390.05" y1="233.1" x2="390.05" y2="239.4" stroke="#40b29d" stroke-width="0.85"/><line x1="391.20" y1="227.2" x2="391.20" y2="241.5" stroke="#40b29d" stroke-width="0.85"/><line x1="392.35" y1="223.6" x2="392.35" y2="234.0" stroke="#40b29d" stroke-width="0.85"/><line x1="393.50" y1="224.5" x2="393.50" y2="226.4" stroke="#f16b78" stroke-width="0.85"/><line x1="394.65" y1="224.1" x2="394.65" y2="235.7" stroke="#f16b78" stroke-width="0.85"/><line x1="395.80" y1="223.3" x2="395.80" y2="235.6" stroke="#f16b78" stroke-width="0.85"/><line x1="396.95" y1="221.1" x2="396.95" y2="237.1" stroke="#40b29d" stroke-width="0.85"/><line x1="398.10" y1="218.8" x2="398.10" y2="232.3" stroke="#f16b78" stroke-width="0.85"/><line x1="399.25" y1="221.9" x2="399.25" y2="235.2" stroke="#40b29d" stroke-width="0.85"/><line x1="400.40" y1="220.2" x2="400.40" y2="235.1" stroke="#f16b78" stroke-width="0.85"/><line x1="401.55" y1="213.3" x2="401.55" y2="232.8" stroke="#40b29d" stroke-width="0.85"/><line x1="402.70" y1="216.5" x2="402.70" y2="232.0" stroke="#f16b78" stroke-width="0.85"/><line x1="403.85" y1="216.2" x2="403.85" y2="228.2" stroke="#40b29d" stroke-width="0.85"/><line x1="405.00" y1="206.3" x2="405.00" y2="223.2" stroke="#40b29d" stroke-width="0.85"/><line x1="406.15" y1="209.9" x2="406.15" y2="222.3" stroke="#40b29d" stroke-width="0.85"/><line x1="407.30" y1="211.0" x2="407.30" y2="220.3" stroke="#40b29d" stroke-width="0.85"/><line x1="408.45" y1="204.4" x2="408.45" y2="213.9" stroke="#40b29d" stroke-width="0.85"/><line x1="409.60" y1="200.8" x2="409.60" y2="219.6" stroke="#40b29d" stroke-width="0.85"/><line x1="410.75" y1="207.1" x2="410.75" y2="215.5" stroke="#f16b78" stroke-width="0.85"/><line x1="411.90" y1="198.9" x2="411.90" y2="221.1" stroke="#40b29d" stroke-width="0.85"/><line x1="413.05" y1="194.6" x2="413.05" y2="215.1" stroke="#f16b78" stroke-width="0.85"/><line x1="414.20" y1="207.6" x2="414.20" y2="223.2" stroke="#f16b78" stroke-width="0.85"/><line x1="415.35" y1="211.4" x2="415.35" y2="221.8" stroke="#f16b78" stroke-width="0.85"/><line x1="416.50" y1="210.2" x2="416.50" y2="222.9" stroke="#40b29d" stroke-width="0.85"/><line x1="417.65" y1="209.5" x2="417.65" y2="218.1" stroke="#40b29d" stroke-width="0.85"/><line x1="418.80" y1="202.6" x2="418.80" y2="216.8" stroke="#40b29d" stroke-width="0.85"/><line x1="419.95" y1="206.7" x2="419.95" y2="211.0" stroke="#40b29d" stroke-width="0.85"/><line x1="421.10" y1="205.1" x2="421.10" y2="221.4" stroke="#f16b78" stroke-width="0.85"/><line x1="422.25" y1="202.0" x2="422.25" y2="223.8" stroke="#40b29d" stroke-width="0.85"/><line x1="423.40" y1="206.9" x2="423.40" y2="213.6" stroke="#40b29d" stroke-width="0.85"/><line x1="424.55" y1="201.5" x2="424.55" y2="222.0" stroke="#f16b78" stroke-width="0.85"/><line x1="425.70" y1="204.3" x2="425.70" y2="225.3" stroke="#40b29d" stroke-width="0.85"/><line x1="426.85" y1="208.3" x2="426.85" y2="223.3" stroke="#f16b78" stroke-width="0.85"/><line x1="428.00" y1="207.0" x2="428.00" y2="217.1" stroke="#40b29d" stroke-width="0.85"/><line x1="429.15" y1="203.8" x2="429.15" y2="224.8" stroke="#f16b78" stroke-width="0.85"/><line x1="430.30" y1="210.3" x2="430.30" y2="221.9" stroke="#40b29d" stroke-width="0.85"/><line x1="431.45" y1="209.4" x2="431.45" y2="221.6" stroke="#40b29d" stroke-width="0.85"/><line x1="432.60" y1="201.2" x2="432.60" y2="219.6" stroke="#f16b78" stroke-width="0.85"/><line x1="433.75" y1="211.0" x2="433.75" y2="228.5" stroke="#f16b78" stroke-width="0.85"/><line x1="434.90" y1="202.7" x2="434.90" y2="233.1" stroke="#40b29d" stroke-width="0.85"/><line x1="436.05" y1="207.2" x2="436.05" y2="233.3" stroke="#f16b78" stroke-width="0.85"/><line x1="437.20" y1="208.5" x2="437.20" y2="228.7" stroke="#40b29d" stroke-width="0.85"/><line x1="438.35" y1="204.8" x2="438.35" y2="223.0" stroke="#40b29d" stroke-width="0.85"/><line x1="439.50" y1="199.4" x2="439.50" y2="218.5" stroke="#40b29d" stroke-width="0.85"/><line x1="440.65" y1="202.5" x2="440.65" y2="226.5" stroke="#f16b78" stroke-width="0.85"/><line x1="441.80" y1="214.8" x2="441.80" y2="230.3" stroke="#40b29d" stroke-width="0.85"/><line x1="442.95" y1="196.2" x2="442.95" y2="229.1" stroke="#40b29d" stroke-width="0.85"/><line x1="444.10" y1="197.2" x2="444.10" y2="233.6" stroke="#f16b78" stroke-width="0.85"/><line x1="445.25" y1="199.2" x2="445.25" y2="227.4" stroke="#40b29d" stroke-width="0.85"/><line x1="446.40" y1="198.7" x2="446.40" y2="222.7" stroke="#f16b78" stroke-width="0.85"/><line x1="447.55" y1="207.7" x2="447.55" y2="218.2" stroke="#40b29d" stroke-width="0.85"/><line x1="448.70" y1="206.1" x2="448.70" y2="219.7" stroke="#f16b78" stroke-width="0.85"/><line x1="449.85" y1="206.2" x2="449.85" y2="227.1" stroke="#40b29d" stroke-width="0.85"/><line x1="451.00" y1="202.3" x2="451.00" y2="220.5" stroke="#40b29d" stroke-width="0.85"/><line x1="452.15" y1="199.9" x2="452.15" y2="208.9" stroke="#40b29d" stroke-width="0.85"/><line x1="453.30" y1="201.2" x2="453.30" y2="224.4" stroke="#f16b78" stroke-width="0.85"/><line x1="454.45" y1="206.4" x2="454.45" y2="224.1" stroke="#40b29d" stroke-width="0.85"/><line x1="455.60" y1="204.0" x2="455.60" y2="216.7" stroke="#f16b78" stroke-width="0.85"/><line x1="456.75" y1="211.4" x2="456.75" y2="218.5" stroke="#40b29d" stroke-width="0.85"/><line x1="457.90" y1="209.2" x2="457.90" y2="219.8" stroke="#f16b78" stroke-width="0.85"/><line x1="459.05" y1="207.2" x2="459.05" y2="219.9" stroke="#f16b78" stroke-width="0.85"/><line x1="460.20" y1="207.7" x2="460.20" y2="219.4" stroke="#40b29d" stroke-width="0.85"/><line x1="461.35" y1="200.7" x2="461.35" y2="214.1" stroke="#40b29d" stroke-width="0.85"/><line x1="462.50" y1="197.8" x2="462.50" y2="210.1" stroke="#40b29d" stroke-width="0.85"/><line x1="463.65" y1="169.9" x2="463.65" y2="208.4" stroke="#40b29d" stroke-width="0.85"/><line x1="464.80" y1="178.7" x2="464.80" y2="192.3" stroke="#f16b78" stroke-width="0.85"/><line x1="465.95" y1="166.0" x2="465.95" y2="187.7" stroke="#40b29d" stroke-width="0.85"/><line x1="467.10" y1="165.5" x2="467.10" y2="196.9" stroke="#f16b78" stroke-width="0.85"/><line x1="468.25" y1="185.5" x2="468.25" y2="199.0" stroke="#40b29d" stroke-width="0.85"/><line x1="469.40" y1="168.7" x2="469.40" y2="197.8" stroke="#40b29d" stroke-width="0.85"/><line x1="470.55" y1="162.3" x2="470.55" y2="189.6" stroke="#40b29d" stroke-width="0.85"/><line x1="471.70" y1="165.1" x2="471.70" y2="179.5" stroke="#40b29d" stroke-width="0.85"/><line x1="472.85" y1="161.1" x2="472.85" y2="175.1" stroke="#f16b78" stroke-width="0.85"/><line x1="474.00" y1="170.3" x2="474.00" y2="195.5" stroke="#f16b78" stroke-width="0.85"/><line x1="475.15" y1="187.5" x2="475.15" y2="196.1" stroke="#f16b78" stroke-width="0.85"/><line x1="476.30" y1="179.0" x2="476.30" y2="193.5" stroke="#40b29d" stroke-width="0.85"/><line x1="477.45" y1="173.3" x2="477.45" y2="192.0" stroke="#40b29d" stroke-width="0.85"/><line x1="478.60" y1="166.2" x2="478.60" y2="188.4" stroke="#f16b78" stroke-width="0.85"/><line x1="479.75" y1="185.7" x2="479.75" y2="193.9" stroke="#f16b78" stroke-width="0.85"/><line x1="480.90" y1="182.2" x2="480.90" y2="196.8" stroke="#40b29d" stroke-width="0.85"/><line x1="482.05" y1="178.0" x2="482.05" y2="193.2" stroke="#40b29d" stroke-width="0.85"/><line x1="483.20" y1="165.7" x2="483.20" y2="188.7" stroke="#40b29d" stroke-width="0.85"/><line x1="484.35" y1="166.3" x2="484.35" y2="181.0" stroke="#f16b78" stroke-width="0.85"/><line x1="485.50" y1="173.7" x2="485.50" y2="192.6" stroke="#f16b78" stroke-width="0.85"/><line x1="486.65" y1="179.5" x2="486.65" y2="191.0" stroke="#40b29d" stroke-width="0.85"/><line x1="487.80" y1="180.4" x2="487.80" y2="189.5" stroke="#40b29d" stroke-width="0.85"/><line x1="488.95" y1="165.5" x2="488.95" y2="188.1" stroke="#40b29d" stroke-width="0.85"/><line x1="490.10" y1="165.5" x2="490.10" y2="176.7" stroke="#f16b78" stroke-width="0.85"/><line x1="491.25" y1="164.7" x2="491.25" y2="175.5" stroke="#40b29d" stroke-width="0.85"/><line x1="492.40" y1="162.1" x2="492.40" y2="178.2" stroke="#f16b78" stroke-width="0.85"/><line x1="493.55" y1="174.0" x2="493.55" y2="180.3" stroke="#f16b78" stroke-width="0.85"/><line x1="494.70" y1="175.0" x2="494.70" y2="178.9" stroke="#40b29d" stroke-width="0.85"/><line x1="495.85" y1="168.0" x2="495.85" y2="177.5" stroke="#40b29d" stroke-width="0.85"/><line x1="497.00" y1="159.4" x2="497.00" y2="172.8" stroke="#40b29d" stroke-width="0.85"/><line x1="498.15" y1="156.0" x2="498.15" y2="167.1" stroke="#40b29d" stroke-width="0.85"/><line x1="499.30" y1="155.2" x2="499.30" y2="164.2" stroke="#f16b78" stroke-width="0.85"/><line x1="500.45" y1="161.7" x2="500.45" y2="169.4" stroke="#f16b78" stroke-width="0.85"/><line x1="501.60" y1="159.2" x2="501.60" y2="180.2" stroke="#f16b78" stroke-width="0.85"/><line x1="502.75" y1="168.1" x2="502.75" y2="181.7" stroke="#40b29d" stroke-width="0.85"/><line x1="503.90" y1="165.7" x2="503.90" y2="173.8" stroke="#f16b78" stroke-width="0.85"/><line x1="505.05" y1="155.3" x2="505.05" y2="174.9" stroke="#40b29d" stroke-width="0.85"/><line x1="506.20" y1="146.1" x2="506.20" y2="162.8" stroke="#40b29d" stroke-width="0.85"/><line x1="507.35" y1="146.1" x2="507.35" y2="154.8" stroke="#40b29d" stroke-width="0.85"/><line x1="508.50" y1="128.3" x2="508.50" y2="148.9" stroke="#40b29d" stroke-width="0.85"/><line x1="509.65" y1="126.5" x2="509.65" y2="134.6" stroke="#f16b78" stroke-width="0.85"/><line x1="510.80" y1="117.6" x2="510.80" y2="137.5" stroke="#40b29d" stroke-width="0.85"/><line x1="511.95" y1="115.6" x2="511.95" y2="128.2" stroke="#f16b78" stroke-width="0.85"/><line x1="513.10" y1="114.0" x2="513.10" y2="127.2" stroke="#40b29d" stroke-width="0.85"/><line x1="514.25" y1="109.8" x2="514.25" y2="134.6" stroke="#f16b78" stroke-width="0.85"/><line x1="515.40" y1="105.0" x2="515.40" y2="134.9" stroke="#40b29d" stroke-width="0.85"/><line x1="516.55" y1="103.9" x2="516.55" y2="123.6" stroke="#f16b78" stroke-width="0.85"/><line x1="517.70" y1="111.9" x2="517.70" y2="121.8" stroke="#40b29d" stroke-width="0.85"/><line x1="518.85" y1="103.1" x2="518.85" y2="121.3" stroke="#40b29d" stroke-width="0.85"/><line x1="520.00" y1="97.0" x2="520.00" y2="132.0" stroke="#f16b78" stroke-width="0.85"/><line x1="521.15" y1="106.5" x2="521.15" y2="127.8" stroke="#40b29d" stroke-width="0.85"/><line x1="522.30" y1="107.7" x2="522.30" y2="124.6" stroke="#f16b78" stroke-width="0.85"/><line x1="523.45" y1="112.5" x2="523.45" y2="124.0" stroke="#40b29d" stroke-width="0.85"/><line x1="524.60" y1="119.2" x2="524.60" y2="122.8" stroke="#f16b78" stroke-width="0.85"/><line x1="525.75" y1="99.7" x2="525.75" y2="124.6" stroke="#40b29d" stroke-width="0.85"/><line x1="526.90" y1="102.9" x2="526.90" y2="120.4" stroke="#f16b78" stroke-width="0.85"/><line x1="528.05" y1="102.2" x2="528.05" y2="120.6" stroke="#40b29d" stroke-width="0.85"/><line x1="529.20" y1="98.5" x2="529.20" y2="111.8" stroke="#f16b78" stroke-width="0.85"/><line x1="530.35" y1="102.5" x2="530.35" y2="117.0" stroke="#f16b78" stroke-width="0.85"/><line x1="531.50" y1="101.9" x2="531.50" y2="115.3" stroke="#40b29d" stroke-width="0.85"/><line x1="532.65" y1="103.7" x2="532.65" y2="118.5" stroke="#f16b78" stroke-width="0.85"/><line x1="533.80" y1="103.3" x2="533.80" y2="116.4" stroke="#40b29d" stroke-width="0.85"/><line x1="534.95" y1="109.7" x2="534.95" y2="137.1" stroke="#f16b78" stroke-width="0.85"/><line x1="185.8" y1="226" x2="185.8" y2="258" stroke="#f37f8a" stroke-width="0.9"/><line x1="264" y1="295" x2="264" y2="321" stroke="#4fb9a6" stroke-width="0.9"/><line x1="171.8" y1="283" x2="171.8" y2="312" stroke="#f37f8a" stroke-width="0.9"/><line x1="121" y1="338" x2="121" y2="366" stroke="#f37f8a" stroke-width="0.9"/><line x1="135.3" y1="329" x2="135.3" y2="355" stroke="#f37f8a" stroke-width="0.9"/><line x1="169" y1="270" x2="169" y2="310" stroke="#f37f8a" stroke-width="0.9"/><line x1="204.3" y1="152" x2="204.3" y2="178" stroke="#f37f8a" stroke-width="0.9"/><line x1="207.4" y1="156" x2="207.4" y2="222" stroke="#f37f8a" stroke-width="0.9"/><line x1="202.7" y1="171" x2="202.7" y2="200" stroke="#4fb9a6" stroke-width="0.9"/><line x1="214.9" y1="161" x2="214.9" y2="205" stroke="#4fb9a6" stroke-width="0.9"/><line x1="219.5" y1="153" x2="219.5" y2="245" stroke="#f37f8a" stroke-width="0.9"/><line x1="221.3" y1="160" x2="221.3" y2="232" stroke="#f37f8a" stroke-width="0.9"/><line x1="224.5" y1="240" x2="224.5" y2="289" stroke="#f37f8a" stroke-width="0.9"/><line x1="253" y1="300" x2="253" y2="332" stroke="#f37f8a" stroke-width="0.9"/><line x1="258" y1="287" x2="258" y2="322" stroke="#4fb9a6" stroke-width="0.9"/><line x1="287" y1="300" x2="287" y2="330" stroke="#f37f8a" stroke-width="0.9"/><line x1="332.8" y1="202" x2="332.8" y2="237" stroke="#f37f8a" stroke-width="0.9"/><line x1="337.2" y1="214" x2="337.2" y2="250" stroke="#f37f8a" stroke-width="0.9"/><line x1="339.5" y1="250.8" x2="339.5" y2="278.4" stroke="#f37f8a" stroke-width="0.9"/><line x1="360" y1="243" x2="360" y2="265" stroke="#f37f8a" stroke-width="0.9"/><line x1="463" y1="178" x2="463" y2="232" stroke="#4fb9a6" stroke-width="0.9"/><line x1="470" y1="163" x2="470" y2="195" stroke="#4fb9a6" stroke-width="0.9"/><line x1="520" y1="100" x2="520" y2="135" stroke="#f37f8a" stroke-width="0.9"/><line x1="532.4" y1="98" x2="532.4" y2="150" stroke="#f37f8a" stroke-width="0.9"/><line x1="513.4" y1="110" x2="513.4" y2="132" stroke="#4fb9a6" stroke-width="0.9"/><line x1="515.8" y1="109" x2="515.8" y2="132" stroke="#4fb9a6" stroke-width="0.9"/></g>
<rect x="130.8" y="300.3" width="397.2" height="3.2" fill="rgba(41,98,255,0.38)" stroke="#9ad3a0" stroke-width="0.8"/>
<rect x="260" y="227.2" width="180.0" height="3.8" fill="rgba(41,98,255,0.38)" stroke="#9ad3a0" stroke-width="0.8"/>
<rect x="395.4" y="212.1" width="91.7" height="22.2" fill="rgba(41,98,255,0.38)" stroke="#9ad3a0" stroke-width="0.8"/>
<rect x="395.4" y="227.2" width="44.6" height="3.4" fill="rgba(41,98,255,0.3)" stroke="none" stroke-width="0.8"/>
<rect x="466.2" y="163" width="87.5" height="18.4" fill="rgba(242,54,69,0.38)" stroke="#9ad3a0" stroke-width="0.8"/>
<rect x="505.9" y="139.1" width="44.6" height="5.4" fill="rgba(242,54,69,0.38)" stroke="#9ad3a0" stroke-width="0.8"/>
<line x1="0" y1="93.3" x2="728" y2="93.3" stroke="#7e57c2" stroke-width="1"/>
<line x1="0" y1="114.3" x2="728" y2="114.3" stroke="#f23645" stroke-width="1"/>
<line x1="0" y1="124.8" x2="728" y2="124.8" stroke="#f23645" stroke-width="1"/>
<line x1="0" y1="156.5" x2="728" y2="156.5" stroke="#fcdde0" stroke-width="1"/>
<line x1="466" y1="210.2" x2="728" y2="210.2" stroke="#f23645" stroke-width="1" stroke-dasharray="4.5 4.7"/>
<line x1="0" y1="222.5" x2="728" y2="222.5" stroke="#f23645" stroke-width="1"/>
<line x1="236.7" y1="230.3" x2="728" y2="230.3" stroke="#f23645" stroke-width="1" stroke-dasharray="4.5 4.7"/>
<line x1="0" y1="249.9" x2="728" y2="249.9" stroke="#f23645" stroke-width="1"/>
<line x1="408" y1="305.4" x2="728" y2="305.4" stroke="#f23645" stroke-width="1" stroke-dasharray="4.5 4.7"/>
<line x1="0" y1="372.7" x2="728" y2="372.7" stroke="#f23645" stroke-width="1"/>
<line x1="201.6" y1="147" x2="232" y2="160" stroke="#f23645" stroke-width="1"/>
<line x1="111.8" y1="388" x2="248.3" y2="209.9" stroke="#f23645" stroke-width="1"/>
<line x1="123.3" y1="355.2" x2="485" y2="278.2" stroke="#f23645" stroke-width="1"/>
<line x1="256" y1="327" x2="483.3" y2="238.2" stroke="#f23645" stroke-width="1"/>
<line x1="483.3" y1="238.2" x2="476.02865062303925" y2="236.36220832568748" stroke="#f23645" stroke-width="1"/>
<line x1="483.3" y1="238.2" x2="479.2001387796206" y2="244.48021798774764" stroke="#f23645" stroke-width="1"/>
<line x1="379.5" y1="217" x2="425.8" y2="125.2" stroke="#f23645" stroke-width="1"/>
<line x1="425.8" y1="125.2" x2="419.60293704299295" y2="128.45521285124195" stroke="#f23645" stroke-width="1"/>
<line x1="425.8" y1="125.2" x2="426.86594520663806" y2="132.11836402745948" stroke="#f23645" stroke-width="1"/>
<line x1="377.2" y1="297.4" x2="394.6" y2="377.3" stroke="#f23645" stroke-width="1"/>
<line x1="394.6" y1="377.3" x2="397.55910813939425" y2="370.40843421134423" stroke="#f23645" stroke-width="1"/>
<line x1="394.6" y1="377.3" x2="389.04317467486334" y2="372.2629679069993" stroke="#f23645" stroke-width="1"/>
<line x1="219.4" y1="217.3" x2="219.4" y2="279" stroke="#2962ff" stroke-width="1"/>
<line x1="219.4" y1="279" x2="223.34545849994737" y2="275.1681130985906" stroke="#2962ff" stroke-width="1"/>
<line x1="219.4" y1="279" x2="215.45454150005264" y2="275.1681130985906" stroke="#2962ff" stroke-width="1"/>
<line x1="405" y1="235" x2="409.4" y2="267.6" stroke="#5cb860" stroke-width="1.1"/>
<line x1="409.4" y1="267.6" x2="413.7334682231616" y2="261.8501258136505" stroke="#5cb860" stroke-width="1.1"/>
<line x1="409.4" y1="267.6" x2="403.69724554520127" y2="263.2047080155838" stroke="#5cb860" stroke-width="1.1"/>
<line x1="418.8" y1="267.7" x2="421.6" y2="291.6" stroke="#5cb860" stroke-width="1.1"/>
<line x1="421.6" y1="291.6" x2="426.0336232363388" y2="285.92699506450094" stroke="#5cb860" stroke-width="1.1"/>
<line x1="421.6" y1="291.6" x2="415.97519160137574" y2="287.1053887288481" stroke="#5cb860" stroke-width="1.1"/>
<line x1="534" y1="141.2" x2="547.3" y2="115.6" stroke="#5cb860" stroke-width="1.1"/>
<line x1="547.3" y1="115.6" x2="540.3120187492573" y2="118.32362222770861" stroke="#5cb860" stroke-width="1.1"/>
<line x1="547.3" y1="115.6" x2="549.0889595636676" y2="122.88351726019523" stroke="#5cb860" stroke-width="1.1"/>
<polyline points="519.9,99.7 530,99.7" fill="none" stroke="#4caf50" stroke-width="1"/>
<polyline points="525.4,94.4 531.3,98.9 536.8,94.4" fill="none" stroke="#4caf50" stroke-width="1"/>
<polyline points="505.7,176.8 510,181 505.7,186" fill="none" stroke="#4caf50" stroke-width="1"/>
<polyline points="499,163 506.8,155.3 514.6,163" fill="none" stroke="#ff9800" stroke-width="1.2"/>
<line x1="467" y1="231" x2="572" y2="168.3" stroke="#5d606b" stroke-width="1" stroke-dasharray="4.4 5.2"/>
<line x1="261" y1="362.6" x2="313" y2="387.5" stroke="#5d606b" stroke-width="1" stroke-dasharray="4.6 4.6"/>
<line x1="535.3" y1="112" x2="535.3" y2="157.4" stroke="#f26b77" stroke-width="0.9"/>
<text x="411.7" y="10.5" fill="#9c4dcc" font-size="6.45" text-anchor="start" font-weight="normal" dominant-baseline="central">3.618 (4,769.196)</text>
<text x="411.7" y="70.6" fill="#f23645" font-size="6.45" text-anchor="start" font-weight="normal" dominant-baseline="central">2.618 (4,603.547)</text>
<text x="205.6" y="131.1" fill="#f23645" font-size="6.45" text-anchor="start" font-weight="normal" dominant-baseline="central">2.618 (4,439.199)</text>
<text x="411.9" y="131.4" fill="#2962ff" font-size="6.45" text-anchor="start" font-weight="normal" dominant-baseline="central">1.618 (4,437.898)</text>
<text x="206.7" y="274.3" fill="#2962ff" font-size="6.45" text-anchor="start" font-weight="normal" dominant-baseline="central">1.618 (4,048.345)</text>
<text x="218.9" y="362.9" fill="#787b86" font-size="6.45" text-anchor="start" font-weight="normal" dominant-baseline="central">1 (3,803.561)</text>
<text x="462.6" y="168.4" fill="#787b86" font-size="6.45" text-anchor="end" font-weight="normal" dominant-baseline="central">1 (4,335.528)</text>
<text x="462.6" y="181.4" fill="#22a5c8" font-size="6.45" text-anchor="end" font-weight="normal" dominant-baseline="central">0.786 (4,300.079)</text>
<text x="462.6" y="191.4" fill="#089981" font-size="6.45" text-anchor="end" font-weight="normal" dominant-baseline="central">0.618 (4,272.250)</text>
<text x="462.6" y="198.4" fill="#4caf50" font-size="6.45" text-anchor="end" font-weight="normal" dominant-baseline="central">0.5 (4,252.703)</text>
<text x="462.6" y="206.1" fill="#ff9800" font-size="6.45" text-anchor="end" font-weight="normal" dominant-baseline="central">0.382 (4,233.157)</text>
<text x="462.6" y="213.8" fill="#f23645" font-size="6.45" text-anchor="end" font-weight="normal" dominant-baseline="central">0.236 (4,208.312)</text>
<text x="462.6" y="228.6" fill="#787b86" font-size="6.45" text-anchor="end" font-weight="normal" dominant-baseline="central">0 (4,164.520)</text>
<text x="274" y="254.3" fill="#3f6ff7" font-size="8.8" text-anchor="middle" font-weight="normal" dominant-baseline="central" letter-spacing="0.5" stroke="#3f6ff7" stroke-width="0.25">(1)</text>
<text x="293.6" y="323.4" fill="#7c4fc9" font-size="8.8" text-anchor="middle" font-weight="normal" dominant-baseline="central" letter-spacing="0.5" stroke="#7c4fc9" stroke-width="0.25">(2)</text>
<text x="332.8" y="192.3" fill="#3f6ff7" font-size="8.8" text-anchor="middle" font-weight="normal" dominant-baseline="central" letter-spacing="0.5" stroke="#3f6ff7" stroke-width="0.25">(3)</text>
<text x="350.2" y="302.1" fill="#3f6ff7" font-size="8.8" text-anchor="middle" font-weight="normal" dominant-baseline="central" letter-spacing="0.5" stroke="#3f6ff7" stroke-width="0.25">(4)</text>
<text x="443.8" y="114.3" fill="#3f6ff7" font-size="8.8" text-anchor="middle" font-weight="normal" dominant-baseline="central" letter-spacing="0.5" stroke="#3f6ff7" stroke-width="0.25">(5)</text>
<rect x="0" y="386.6" width="1.6" height="12.6" fill="#a6bff7"/>
<circle cx="534.7" cy="380.6" r="5" fill="#fff" stroke="#ab47bc" stroke-width="1.1"/>
<path d="M536.3,376.6 L532.6,381.3 L534.9,381.3 L533.4,384.8 L537.2,379.9 L534.9,379.9 Z" fill="#ab47bc"/>
<circle cx="544.1" cy="380.6" r="5.4" fill="#fff" stroke="#f23645" stroke-width="1.1"/>
<path d="M539.6,376.8 h5 v5.2 h-5 z" fill="#3a78f0"/>
<path d="M544.6,378.6 h3.6 v1.3 h-3.6 z M544.6,381 h4 v1 h-4 z M540.5,383.4 h7 v1.1 h-7 z" fill="#f23645"/>
<polyline points="429,227.3 439,198 441.5,216" fill="none" stroke="#f23645" stroke-width="0.9"/>
<line x1="438.4" y1="198" x2="438.4" y2="222" stroke="#f23645" stroke-width="0.7"/></svg>
<div class="title"><span class="tv">TVC</span> <span>-</span> <span class="ar">الذهب</span> <span class="ar">(دولار</span> <span class="ar">أمريكي/أونصة)</span> <span>-</span> <span class="ar">4ساعة</span></div>
<div class="pl" style="top:376.96px">3,750.000</div><div class="pl" style="top:358.73px">3,800.000</div><div class="pl" style="top:340.50px">3,850.000</div><div class="pl" style="top:322.28px">3,900.000</div><div class="pl" style="top:304.05px">3,950.000</div><div class="pl" style="top:285.82px">4,000.000</div><div class="pl" style="top:267.59px">4,050.000</div><div class="pl" style="top:249.36px">4,100.000</div><div class="pl" style="top:231.14px">4,150.000</div><div class="pl" style="top:212.91px">4,200.000</div><div class="pl" style="top:194.68px">4,250.000</div><div class="pl" style="top:176.45px">4,300.000</div><div class="pl" style="top:158.22px">4,350.000</div><div class="pl" style="top:140.00px">4,400.000</div><div class="pl" style="top:121.77px">4,450.000</div><div class="pl" style="top:103.54px">4,500.000</div><div class="pl" style="top:85.31px">4,550.000</div><div class="pl" style="top:67.08px">4,600.000</div><div class="pl" style="top:48.86px">4,650.000</div><div class="pl" style="top:30.63px">4,700.000</div><div class="pl" style="top:12.40px">4,750.000</div>
<div style="position:absolute;left:729px;top:0;width:39px;height:17.3px;background:#fff"></div><div class="usd">USD</div>
<div class="tag" style="top:88.8px;background:#7e57c2">4,541.273</div><div class="tag" style="top:110.3px;background:#f23645">4,484.314</div><div class="tag" style="top:120.5px;background:#f23645">4,456.204</div><div class="tag" style="top:152.2px;background:#f23645;height:17px;line-height:8.5px">4,370.125<br>28:35</div><div class="tag" style="top:194.8px;background:#f23645">4,251.284</div><div class="tag" style="top:205.7px;background:#f23645">4,221.406</div><div class="tag" style="top:218.1px;background:#f23645">4,187.075</div><div class="tag" style="top:226.7px;background:#f23645">4,166.008</div><div class="tag" style="top:245.4px;background:#f23645">4,112.580</div><div class="tag" style="top:300.9px;background:#f23645">3,960.243</div><div class="tag" style="top:368.8px;background:#f23645">3,775.848</div>
<div class="tl" style="left:126.7px;font-size:6px">أكتوبر</div>
<div class="tl" style="left:275.6px;font-size:6.2px">نوفمبر</div>
<div class="tl" style="left:409px;font-size:6.4px">ديسمبر</div>
<div class="tl" style="left:551.8px;font-weight:bold">2026</div>
<div class="tl" style="left:687px;font-size:5.8px">فبراير</div>
</body></html>
